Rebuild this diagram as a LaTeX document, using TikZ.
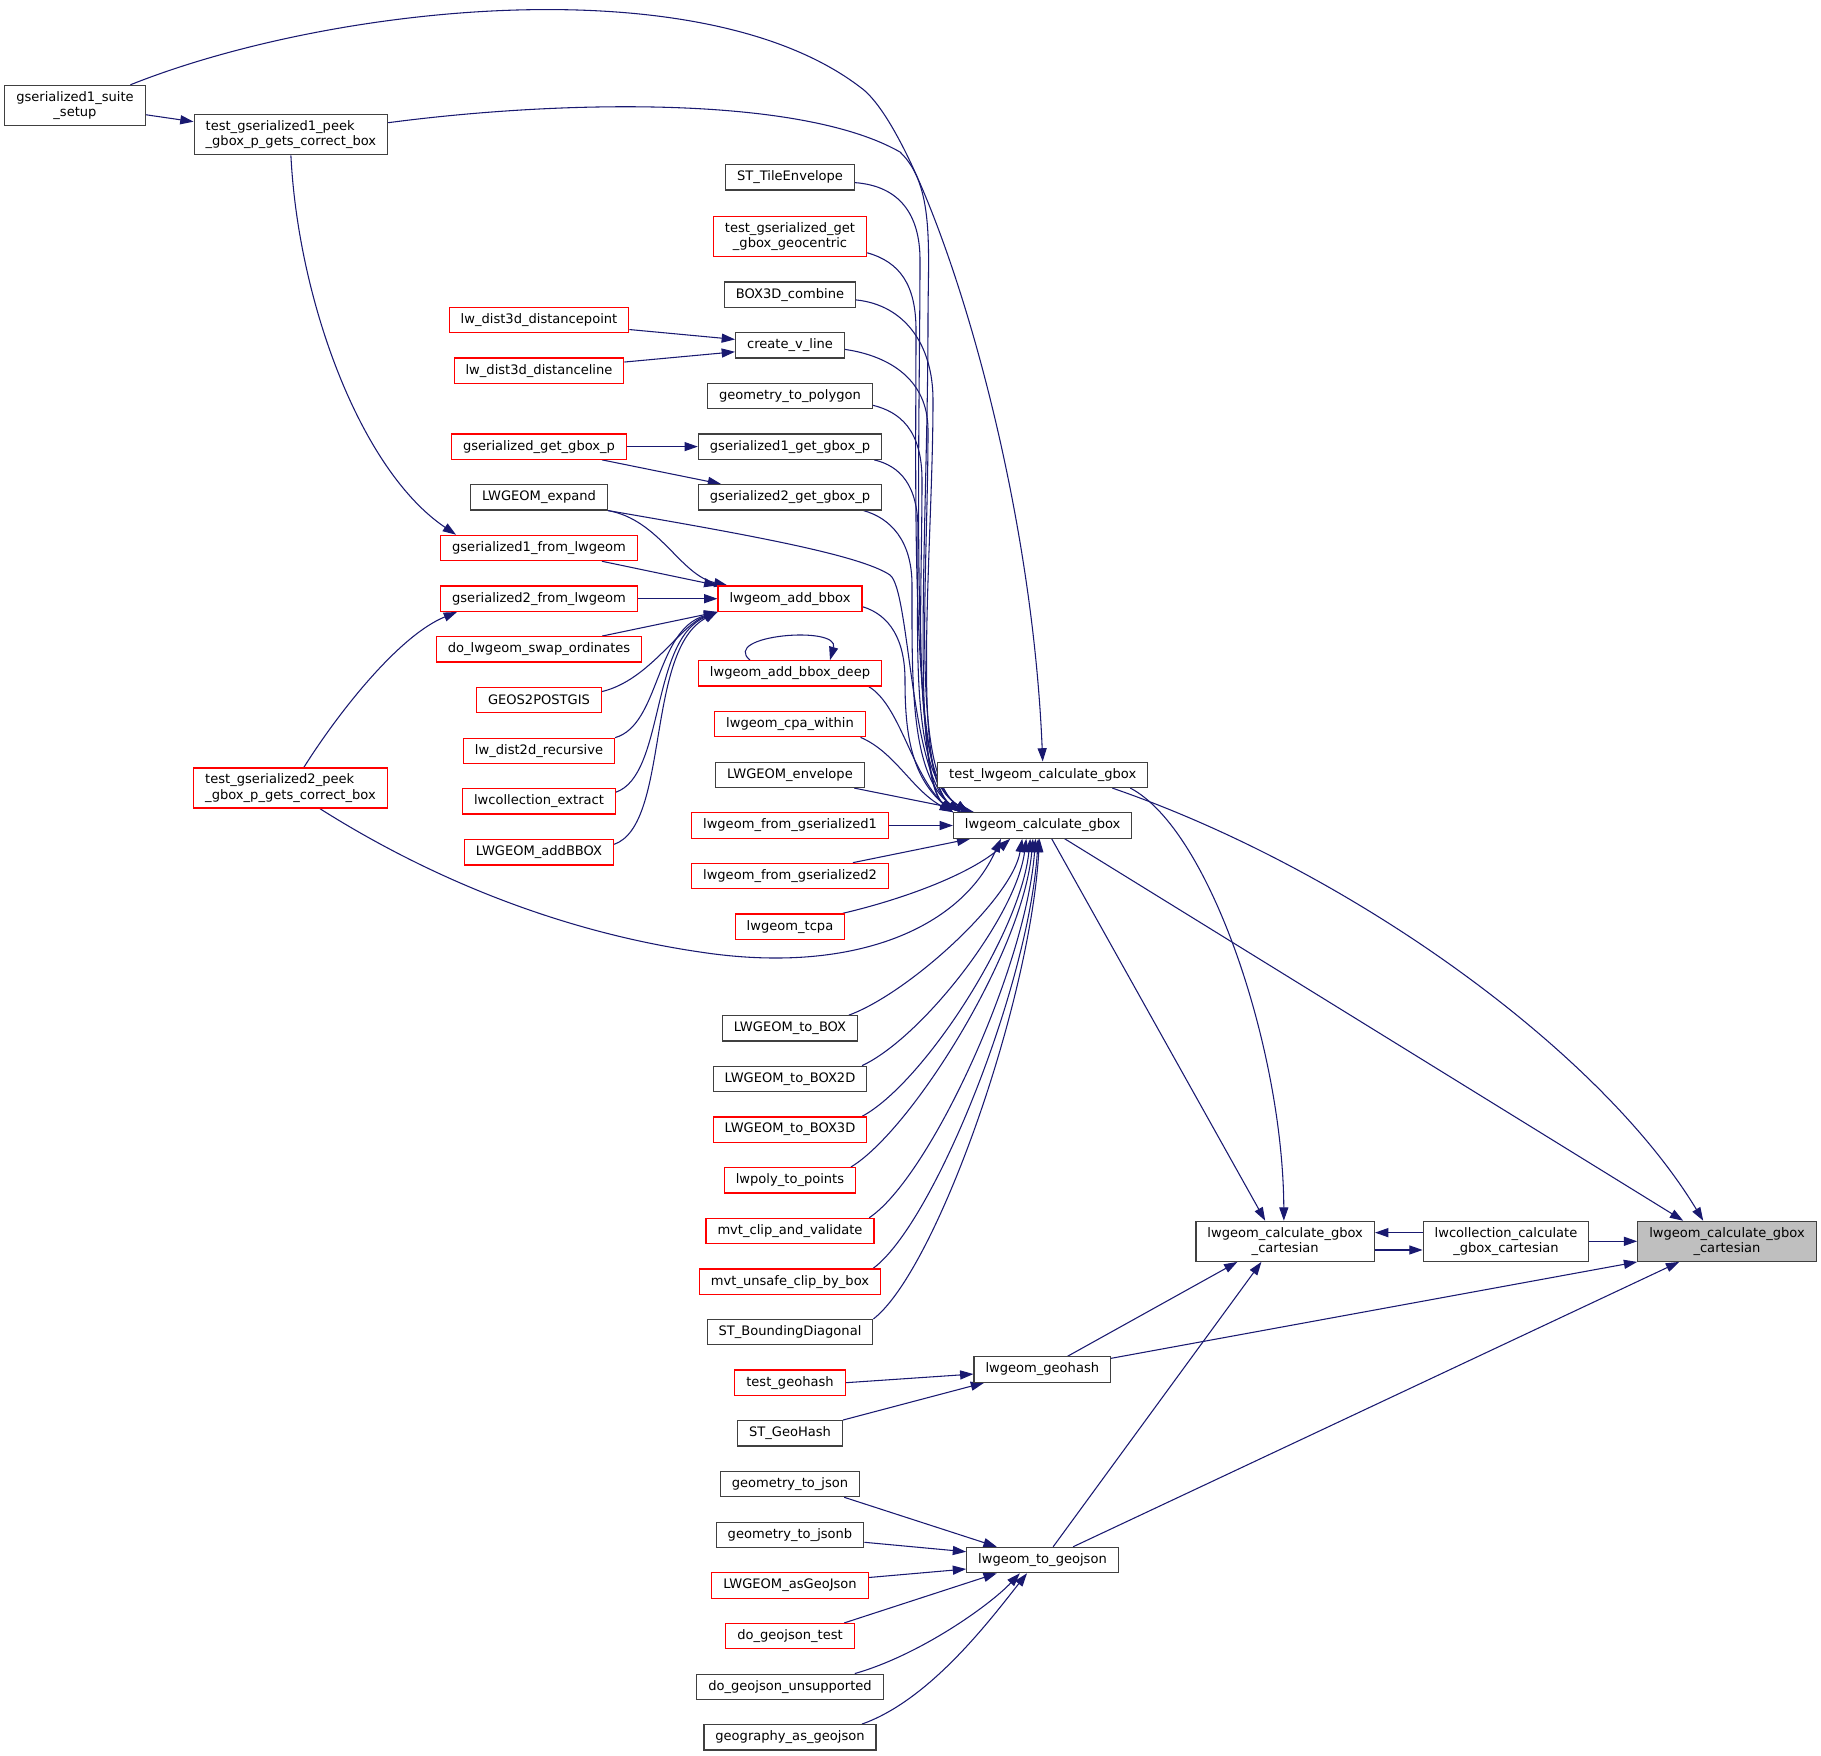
\documentclass[tikz,border=0pt]{standalone}
\usepackage{fontspec}
\usepackage{tikz}
\usetikzlibrary{arrows.meta, backgrounds}

\newfontfamily\dejavu{DejaVu Sans}
\definecolor{edgeblue}{HTML}{191970}
\definecolor{boxline}{HTML}{404040}
\definecolor{mainfill}{HTML}{BFBFBF}

\begin{document}
\begin{tikzpicture}[x=0.75pt, y=-0.75pt,
    fn/.style={draw=boxline, fill=white, line width=0.9pt, inner xsep=8.6pt, inner ysep=0pt,
      minimum height=19pt, font=\dejavu\fontsize{9.8pt}{11.4pt}\selectfont},
    fnred/.style={fn, draw=red},
    fnmain/.style={fn, fill=mainfill},
    twoline/.style={minimum height=30pt, align=center},
    callarrow/.style={draw=edgeblue, line width=0.8pt, -{Triangle[length=10pt, width=6.8pt]}}]
    % Page size in pixels of the caller graph
    \useasboundingbox (0,0) rectangle (1821,1756);

    % Test drivers (left column)
    \node[fn, twoline] (setup) at (75,105.4) {gserialized1\_suite\\\_setup};
    \node[fn, twoline, align=left] (peekA) at (290.9,134.7) {test\_gserialized1\_peek\\\_gbox\_p\_gets\_correct\_box};
    \node[fnred, twoline, align=left] (peekB) at (290.5,788) {test\_gserialized2\_peek\\\_gbox\_p\_gets\_correct\_box};

    % Second column: callers of the helpers
    \node[fnred] (dpoint) at (539,320.2) {lw\_dist3d\_distancepoint};
    \node[fnred] (dline) at (539,370.7) {lw\_dist3d\_distanceline};
    \node[fnred] (getp) at (539,446.6) {gserialized\_get\_gbox\_p};
    \node[fn] (expand) at (539,497.3) {LWGEOM\_expand};
    \node[fnred] (gsAfrom) at (539,548) {gserialized1\_from\_lwgeom};
    \node[fnred] (gsBfrom) at (539,598.7) {gserialized2\_from\_lwgeom};
    \node[fnred] (swap) at (539,649.3) {do\_lwgeom\_swap\_ordinates};
    \node[fnred] (geos) at (539,700.2) {GEOS2POSTGIS};
    \node[fnred] (dist2d) at (539,750.9) {lw\_dist2d\_recursive};
    \node[fnred] (collext) at (539,801.4) {lwcollection\_extract};
    \node[fnred] (addU) at (539,852.3) {LWGEOM\_addBBOX};

    % Third column: direct callers of lwgeom_calculate_gbox
    \node[fn] (tile) at (790,177.3) {ST\_TileEnvelope};
    \node[fnred, twoline] (geocentric) at (790,236.2) {test\_gserialized\_get\\\_gbox\_geocentric};
    \node[fn] (box3d) at (790,294.6) {BOX3D\_combine};
    \node[fn] (vline) at (790,345.4) {create\_v\_line};
    \node[fn] (topoly) at (790,396) {geometry\_to\_polygon};
    \node[fn] (gsAget) at (790,446.6) {gserialized1\_get\_gbox\_p};
    \node[fn] (gsBget) at (790,497.3) {gserialized2\_get\_gbox\_p};
    \node[fnred] (addbbox) at (790,598.7) {lwgeom\_add\_bbox};
    \node[fnred] (deep) at (790,673.4) {lwgeom\_add\_bbox\_deep};
    \node[fnred] (cpa) at (790,724.1) {lwgeom\_cpa\_within};
    \node[fn] (envelope) at (790,774.8) {LWGEOM\_envelope};
    \node[fnred] (fromA) at (790,825.5) {lwgeom\_from\_gserialized1};
    \node[fnred] (fromB) at (790,875.9) {lwgeom\_from\_gserialized2};
    \node[fnred] (tcpa) at (790,926.6) {lwgeom\_tcpa};
    \node[fn] (tobox) at (790,1028.4) {LWGEOM\_to\_BOX};
    \node[fn] (tobox2d) at (790,1078.9) {LWGEOM\_to\_BOX2D};
    \node[fnred] (tobox3d) at (790,1129.6) {LWGEOM\_to\_BOX3D};
    \node[fnred] (polypts) at (790,1180.3) {lwpoly\_to\_points};
    \node[fnred] (mvtclip) at (790,1231) {mvt\_clip\_and\_validate};
    \node[fnred] (mvtunsafe) at (790,1281.6) {mvt\_unsafe\_clip\_by\_box};
    \node[fn] (diag) at (790,1332.2) {ST\_BoundingDiagonal};
    % geohash and geojson callers
    \node[fnred] (testhash) at (790,1382.7) {test\_geohash};
    \node[fn] (sthash) at (790,1433.3) {ST\_GeoHash};
    \node[fn] (tojson) at (790,1484) {geometry\_to\_json};
    \node[fn] (tojsonb) at (790,1534.8) {geometry\_to\_jsonb};
    \node[fnred] (asgeojson) at (790,1585.5) {LWGEOM\_asGeoJson};
    \node[fnred] (dotest) at (790,1636.2) {do\_geojson\_test};
    \node[fn] (dounsup) at (790,1686.8) {do\_geojson\_unsupported};
    \node[fn] (geogjson) at (790,1737.3) {geography\_as\_geojson};

    % Fourth column
    \node[fn] (testcalc) at (1042.7,774.8) {test\_lwgeom\_calculate\_gbox};
    \node[fn] (calc) at (1042.7,825.5) {lwgeom\_calculate\_gbox};
    \node[fn] (geohash) at (1042.3,1369.5) {lwgeom\_geohash};
    \node[fn] (togeojson) at (1042.5,1560) {lwgeom\_to\_geojson};

    % Right part: the function itself and its two neighbours
    \node[fn, twoline] (cartA) at (1285.2,1241.3) {lwgeom\_calculate\_gbox\\\_cartesian};
    \node[fn, twoline] (collcart) at (1506,1241.3) {lwcollection\_calculate\\\_gbox\_cartesian};
    \node[fnmain, twoline] (cart) at (1727,1241.3) {lwgeom\_calculate\_gbox\\\_cartesian};

    \begin{scope}[on background layer]
    % Test setup edges
    \draw[callarrow] ([yshift=-7pt]setup.east) -- ([yshift=9.75pt]peekA.west);
    \draw[callarrow] ([xshift=-11.5pt]setup.north east) .. controls (330,5) and (700,-35) .. (860,87)
        .. controls (920,128) and (1030,450) .. (testcalc.north);
    \draw[callarrow] (peekA.south) .. controls (298,300) and (360,470) .. ([xshift=12pt]gsAfrom.north west);
    \draw[callarrow] ([yshift=9pt]peekA.east) .. controls (560,100) and (800,95) .. (900,152)
        .. controls (935,185) and (928,250) .. (928,320) .. controls (928,520) and (910,775) .. (calc.north west);
    \draw[callarrow] ([xshift=10pt]peekB.north) .. controls (340,710) and (400,635) .. ([xshift=12.75pt]gsBfrom.south west);
    \draw[callarrow] ([xshift=22pt]peekB.south) .. controls (420,872) and (550,930) .. (700,952)
        .. controls (850,975) and (960,930) .. ([xshift=36pt]calc.south west);

    % Second column into third column
    \draw[callarrow] ([yshift=-7pt]dpoint.east) -- ([yshift=4.5pt]vline.west);
    \draw[callarrow] ([yshift=6.5pt]dline.east) -- ([yshift=-4.8pt]vline.west);
    \draw[callarrow] (getp.east) -- (gsAget.west);
    \draw[callarrow] ([xshift=-18.75pt]getp.south east) -- ([xshift=17.5pt]gsBget.north west);
    \draw[callarrow] (expand.south east) .. controls (660,520) and (680,575) .. ([xshift=7.5pt]addbbox.north west);
    \draw[callarrow] ([xshift=-27pt]gsAfrom.south east) -- (addbbox.north west);
    \draw[callarrow] (gsBfrom.east) -- (addbbox.west);
    \draw[callarrow] ([xshift=-30pt]swap.north east) -- (addbbox.south west);
    \draw[callarrow] ([yshift=6.5pt]geos.east) .. controls (650,680) and (680,625) .. (addbbox.south west);
    \draw[callarrow] (dist2d.north east) .. controls (660,725) and (655,630) .. (addbbox.south west);
    \draw[callarrow] ([yshift=-3pt]collext.north east) .. controls (665,775) and (650,640) .. (addbbox.south west);
    \draw[callarrow] ([yshift=6pt]addU.east) .. controls (670,825) and (645,650) .. (addbbox.south west);
    % lwgeom_add_bbox_deep calls itself
    \draw[callarrow] ([xshift=-30pt]deep.north) .. controls (720,635) and (840,625) .. ([xshift=30pt]deep.north);

    % Upper bundle into lwgeom_calculate_gbox
    \draw[callarrow] ([yshift=-4pt]tile.east) .. controls (900,186) and (920,215) .. (920,260)
        .. controls (920,420) and (910,775) .. (calc.north west);
    \draw[callarrow] ([yshift=3pt]geocentric.south east) .. controls (900,262) and (916,285) .. (916,330)
        .. controls (916,480) and (910,775) .. ([xshift=6pt]calc.north west);
    \draw[callarrow] ([yshift=-4pt]box3d.east) .. controls (905,305) and (933,345) .. (933,400)
        .. controls (933,550) and (910,775) .. ([xshift=6pt]calc.north west);
    \draw[callarrow] ([yshift=-3pt]vline.east) .. controls (890,356) and (928,380) .. (928,430)
        .. controls (928,580) and (910,775) .. ([xshift=12pt]calc.north west);
    \draw[callarrow] ([yshift=3pt]topoly.south east) .. controls (900,412) and (922,430) .. (922,480)
        .. controls (922,620) and (910,775) .. ([xshift=12pt]calc.north west);
    \draw[callarrow] ([xshift=-6pt]gsAget.south east) .. controls (900,466) and (918,485) .. (918,530)
        .. controls (918,650) and (910,775) .. ([xshift=12pt]calc.north west);
    \draw[callarrow] ([xshift=-14pt]gsBget.south east) .. controls (890,518) and (912,540) .. (912,585)
        .. controls (912,680) and (910,775) .. ([xshift=6pt]calc.north west);
    \draw[callarrow] (expand.south east) .. controls (750,535) and (860,555) .. (890,575)
        .. controls (910,590) and (910,775) .. ([xshift=6pt]calc.north west);
    \draw[callarrow] ([yshift=-6pt]addbbox.east) .. controls (890,615) and (905,640) .. (905,680)
        .. controls (905,730) and (910,775) .. (calc.north west);
    \draw[callarrow] ([xshift=-10pt]deep.south east) .. controls (900,705) and (912,775) .. (calc.north west);
    \draw[callarrow] ([xshift=-4pt]cpa.south east) .. controls (895,752) and (912,790) .. (calc.north west);
    \draw[callarrow] ([xshift=-8pt]envelope.south east) -- ([xshift=16pt]calc.north west);
    \draw[callarrow] (fromA.east) -- (calc.west);

    % Lower bundle into lwgeom_calculate_gbox
    \draw[callarrow] ([xshift=-27pt]fromB.north east) -- ([xshift=13pt]calc.south west);
    \draw[callarrow] ([xshift=-2pt]tcpa.north east) .. controls (900,900) and (970,875) .. ([xshift=43pt]calc.south west);
    \draw[callarrow] ([xshift=-7pt]tobox.north east) .. controls +(60,-22) and +(-10,60) .. ([xshift=52pt]calc.south west);
    \draw[callarrow] ([xshift=-4pt]tobox2d.north east) .. controls +(60,-28) and +(-10,78) .. ([xshift=55pt]calc.south west);
    \draw[callarrow] ([xshift=-4pt]tobox3d.north east) .. controls +(60,-32) and +(-10,96) .. ([xshift=58pt]calc.south west);
    \draw[callarrow] ([xshift=-4pt]polypts.north east) .. controls +(60,-36) and +(-10,114) .. ([xshift=60pt]calc.south west);
    \draw[callarrow] ([xshift=-4pt]mvtclip.north east) .. controls +(60,-40) and +(-10,131) .. ([xshift=62pt]calc.south west);
    \draw[callarrow] ([xshift=-6pt]mvtunsafe.north east) .. controls +(60,-44) and +(-10,149) .. ([xshift=64pt]calc.south west);
    \draw[callarrow] (diag.north east) .. controls +(62,-48) and +(-10,167) .. ([xshift=65pt]calc.south west);

    % Callers of lwgeom_geohash and lwgeom_to_geojson
    \draw[callarrow] (testhash.east) -- ([yshift=-3.4pt]geohash.west);
    \draw[callarrow] (sthash.north east) -- ([xshift=8pt]geohash.south west);
    \draw[callarrow] ([xshift=-12pt]tojson.south east) -- ([xshift=23pt]togeojson.north west);
    \draw[callarrow] ([yshift=-5.6pt]tojsonb.east) -- ([yshift=6.2pt]togeojson.west);
    \draw[callarrow] ([yshift=6pt]asgeojson.east) -- ([yshift=-6.75pt]togeojson.west);
    \draw[callarrow] ([xshift=-8pt]dotest.north east) -- ([xshift=23pt]togeojson.south west);
    \draw[callarrow] ([xshift=-21.75pt]dounsup.north east) .. controls (920,1655) and (990,1605) .. ([xshift=-17pt]togeojson.south);
    \draw[callarrow] ([xshift=-11pt]geogjson.north east) .. controls (930,1700) and (990,1620) .. ([xshift=-11.6pt]togeojson.south);

    % Fourth column into the cartesian functions
    \draw[callarrow] ([xshift=6.75pt]calc.south) -- ([xshift=-15pt]cartA.north);
    \draw[callarrow] ([xshift=-13.5pt]testcalc.south east) .. controls (1210,830) and (1283,1050) .. ([xshift=-1pt]cartA.north);
    \draw[callarrow] ([xshift=16.5pt]calc.south) -- ([xshift=34.5pt]cart.north west);
    \draw[callarrow] ([xshift=-27pt]testcalc.south east) .. controls (1350,870) and (1600,1050) .. ([xshift=49.5pt]cart.north west);
    \draw[callarrow] ([xshift=19pt]geohash.north) -- ([xshift=31.5pt]cartA.south west);
    \draw[callarrow] ([xshift=8pt]togeojson.north) -- ([xshift=49.5pt]cartA.south west);
    \draw[callarrow] ([yshift=8.4pt]geohash.east) -- (cart.south west);
    \draw[callarrow] ([xshift=23pt]togeojson.north) -- ([xshift=31.5pt]cart.south west);

    % Cartesian functions call each other
    \draw[callarrow] ([yshift=6.5pt]collcart.west) -- ([yshift=6.5pt]cartA.east);
    \draw[callarrow] ([yshift=-6.5pt]cartA.east) -- ([yshift=-6.5pt]collcart.west);
    \draw[callarrow] (collcart.east) -- (cart.west);
    \end{scope}
\end{tikzpicture}
\end{document}
